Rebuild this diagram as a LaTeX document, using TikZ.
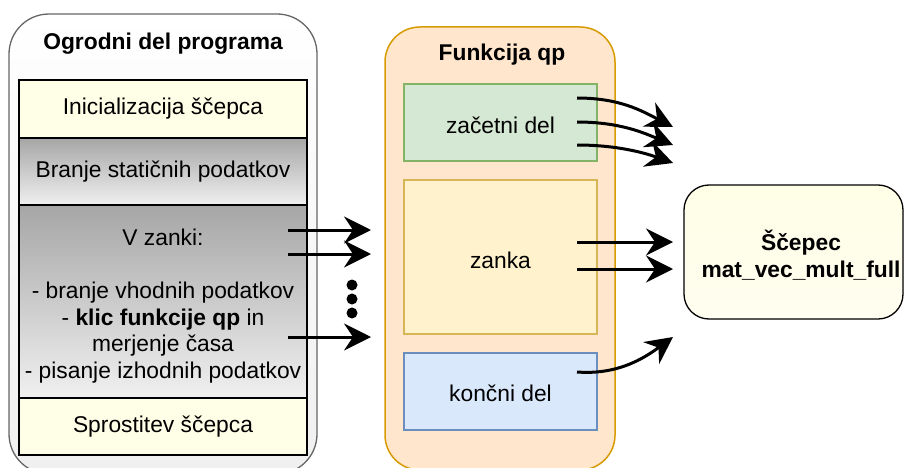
\documentclass[tikz,border=0pt]{standalone}
\usepackage{fontspec}
\setmainfont{Liberation Sans}
\usetikzlibrary{arrows.meta}

\definecolor{frameline}{HTML}{666666}
\definecolor{paleyellow}{HTML}{FFFEE6}
\definecolor{grayTop}{HTML}{A6A6A6}
\definecolor{grayBot}{HTML}{F0F0F0}
\definecolor{fnfill}{HTML}{FFE6CC}
\definecolor{fnline}{HTML}{D79B00}
\definecolor{greenfill}{HTML}{D5E8D4}
\definecolor{greenline}{HTML}{82B366}
\definecolor{yellowfill}{HTML}{FFF2CC}
\definecolor{yellowline}{HTML}{D6B656}
\definecolor{bluefill}{HTML}{DAE8FC}
\definecolor{blueline}{HTML}{6C8EBF}

\tikzset{
  txt/.style={font=\fontsize{22.8}{26.5}\selectfont, align=center, inner sep=0pt},
  ttl/.style={txt, font=\fontsize{22.8}{26.5}\selectfont\bfseries},
  stagebox/.style={draw=black, line width=1.2pt, minimum width=288pt, inner sep=0pt, outer sep=0pt},
  plainstage/.style={stagebox, fill=paleyellow},
  graystage/.style={stagebox, top color=grayTop, bottom color=grayBot},
  partbox/.style={line width=1.3pt, minimum width=193pt, inner sep=0pt, outer sep=0pt},
  flow/.style={line width=3pt, -{Stealth[length=27pt 0 0, width=27pt 0, inset=9pt]}},
}

\begin{document}
\begin{tikzpicture}[x=1pt, y=-1pt]
\useasboundingbox (0,0) rectangle (904,468);

% main program frame
\draw[frameline, line width=1.3pt, rounded corners=40pt, top color=white, bottom color=grayBot]
  (9,474) rectangle (317,14);
\node[ttl] (mainttl) at (163,44) {Ogrodni del programa};

\node[plainstage, minimum height=58pt] (ini) at (163,109) {};
\node[txt] (initxt) at (ini) {Inicializacija ščepca};
\node[graystage, minimum height=67pt] (read) at (163,171.5) {};
\node[txt] (readtxt) at (read) {Branje statičnih podatkov};
\node[graystage, minimum height=193pt] (loop) at (163,301.5) {};
\node[txt] (looptxt) at (163,306) {V zanki:\\[26.5pt]- branje vhodnih podatkov\\- \textbf{klic funkcije qp} in\\merjenje časa\\- pisanje izhodnih podatkov};
\node[plainstage, minimum height=57pt] (free) at (163,426.5) {};
\node[txt] (freetxt) at (free) {Sprostitev ščepca};

% function qp frame
\draw[fnline, line width=1.5pt, rounded corners=35pt, fill=fnfill]
  (385,470) rectangle (615,27);
\node[ttl] (fnttl) at (502,55) {Funkcija qp};

\node[partbox, draw=greenline, fill=greenfill, minimum height=77pt] (start) at (500.5,122.5) {};
\node[txt] (starttxt) at (500.5,125) {začetni del};
\node[partbox, draw=yellowline, fill=yellowfill, minimum height=154pt] (body) at (500.5,257) {};
\node[txt] (bodytxt) at (500.5,260) {zanka};
\node[partbox, draw=blueline, fill=bluefill, minimum height=77pt] (finish) at (500.5,391.5) {};
\node[txt] (finishtxt) at (500.5,393) {končni del};

% kernel
\draw[black, line width=1.3pt, rounded corners=25pt, top color=paleyellow, bottom color=paleyellow!60!white]
  (684,185) rectangle (903,319);
\node[ttl] (kernel) at (801,255) {Ščepec\\mat\_vec\_mult\_full};

% calls from the loop into qp
\coordinate (l1a) at (288,230); \coordinate (l1b) at (371,230);
\coordinate (l2a) at (288,254); \coordinate (l2b) at (371,254);
\coordinate (l3a) at (288,337); \coordinate (l3b) at (371,337);
\draw[flow] (l1a) -- (l1b);
\draw[flow] (l2a) -- (l2b);
\draw[flow] (l3a) -- (l3b);
\foreach \yy/\nm in {285/d1, 299/d2, 313/d3}
  \fill (352,\yy) circle (5.5pt) coordinate (\nm);

% kernel launches from qp
\coordinate (s1) at (577,98);  \coordinate (e1) at (673,127);
\coordinate (s2) at (577,122); \coordinate (e2) at (673,145);
\coordinate (s3) at (577,145); \coordinate (e3) at (673,163);
\draw[flow] (s1) .. controls (620,98) and (642,111) .. (e1);
\draw[flow] (s2) .. controls (620,122) and (644,133) .. (e2);
\draw[flow] (s3) .. controls (617,145) and (645,153) .. (e3);

\coordinate (b1) at (577,242); \coordinate (k1) at (673,242);
\coordinate (b2) at (577,269); \coordinate (k2) at (673,269);
\draw[flow] (b1) -- (k1);
\draw[flow] (b2) -- (k2);

\coordinate (f1) at (577,372); \coordinate (g1) at (673,337);
\draw[flow] (f1) .. controls (617,375) and (643,359) .. (g1);
\end{tikzpicture}
\end{document}
